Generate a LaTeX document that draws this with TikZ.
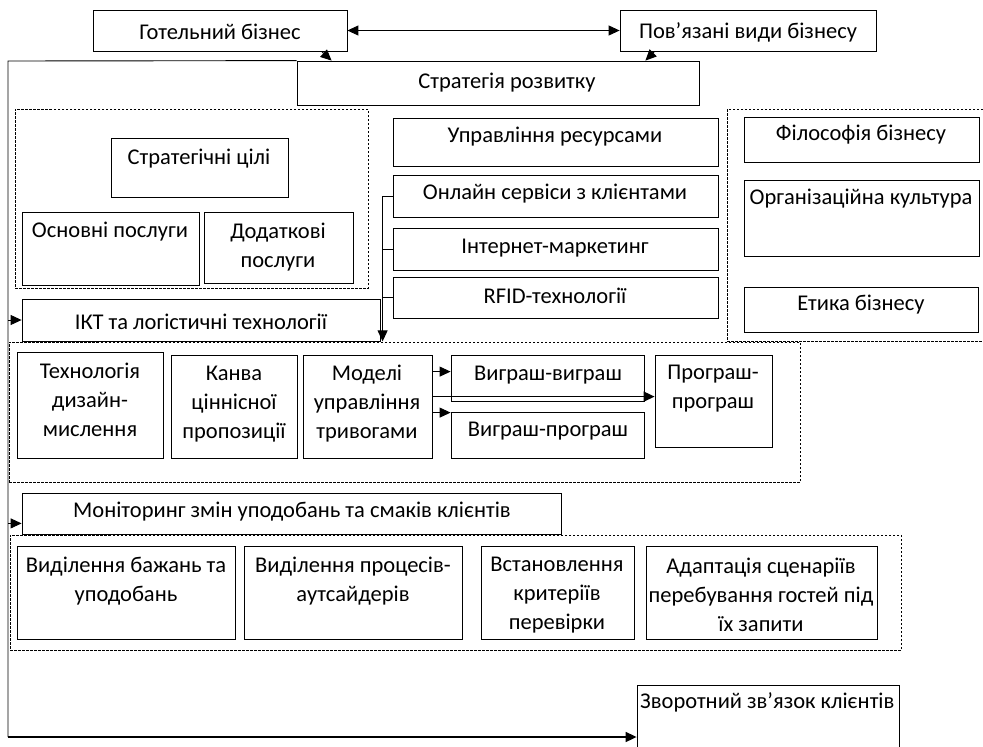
\documentclass[tikz,border=0pt]{standalone}
\usepackage{fontspec}
\setmainfont{Carlito}
\usetikzlibrary{arrows.meta,fit,calc}
\tikzset{
  bx/.style={draw, line width=0.8pt, inner sep=0pt},
  dbx/.style={draw, line width=0.6pt, dash pattern=on 2.5pt off 1.5pt, inner sep=0pt},
  dline/.style={line width=0.6pt, dash pattern=on 2.5pt off 1.5pt},
  tx/.style={inner sep=0pt, align=center, yshift=-2pt, font=\fontsize{22.5}{29}\selectfont},
  conn/.style={line width=0.9pt},
  arr/.style={line width=0.9pt, -{Triangle[length=11pt,width=10pt]}},
  darr/.style={line width=0.9pt, {Triangle[length=11pt,width=10pt]}-{Triangle[length=11pt,width=10pt]}},
}
\begin{document}
\begin{tikzpicture}[x=1pt,y=-1pt]
\useasboundingbox (0,0) rectangle (983,747);
\clip (0,0) rectangle (983,747);
% top
\node[bx, fit={(93,10) (347,51)}] (hotel) {};
\node[tx] (hotel-t) at (220,30) {Готельний бізнес};
\node[bx, fit={(620,10) (876,51)}] (rel) {};
\node[tx] (rel-t) at (748,30) {Пов’язані види бізнесу};
\node[bx, fit={(297,61) (699,105)}] (strat) {};
\node[tx] (strat-t) at (507,81) {Стратегія розвитку};
% left dashed group
\node[dbx, fit={(15,109) (368,288)}] (gl) {};
\node[bx, fit={(111,138) (288,197)}] (goals) {};
\node[tx] (goals-t) at (199,157) {Стратегічні цілі};
\node[bx, fit={(22,212) (199,285)}] (basic) {};
\node[tx] (basic-t) at (110,230) {Основні послуги};
\node[bx, fit={(204,212) (353,283)}] (extra) {};
\node[tx] (extra-t) at (278,245) {Додаткові\\послуги};
\node[bx, fit={(22,299) (380,341)}] (ict) {};
\node[tx] (ict-t) at (201,320) {ІКТ та логістичні технології};
% middle column
\node[bx, fit={(393,118) (718,166)}] (res) {};
\node[tx] (res-t) at (555,135) {Управління ресурсами};
\node[bx, fit={(393,175) (718,217)}] (online) {};
\node[tx] (online-t) at (555,192) {Онлайн сервіси з клієнтами};
\node[bx, fit={(393,228) (718,270)}] (inet) {};
\node[tx] (inet-t) at (555,246) {Інтернет-маркетинг};
\node[bx, fit={(393,277) (718,318)}] (rfid) {};
\node[tx] (rfid-t) at (555,294) {RFID-технології};
% right dashed group
\draw[dline] (983,109) -- (727,109) -- (727,341) -- (983,341);
\node[bx, fit={(744,117) (979,162)}] (phil) {};
\node[tx] (phil-t) at (861,133) {Філософія бізнесу};
\node[bx, fit={(744,180) (979,256)}] (org) {};
\node[tx] (org-t) at (861,197) {Організаційна культура};
\node[bx, fit={(744,287) (978,332)}] (eth) {};
\node[tx] (eth-t) at (861,303) {Етика бізнесу};
% middle dashed group
\node[dbx, fit={(9,342) (800,482)}] (gm) {};
\node[bx, fit={(17,352) (163,458)}] (tech) {};
\node[tx] (tech-t) at (90,398) {Технологія\\дизайн-\\мислення};
\node[bx, fit={(171,355) (297,458)}] (kanva) {};
\node[tx] (kanva-t) at (234,402) {Канва\\ціннісної\\пропозиції};
\node[bx, fit={(303,355) (432,458)}] (models) {};
\node[tx] (models-t) at (367,402) {Моделі\\управління\\тривогами};
\node[bx, fit={(451,355) (644,401)}] (ww) {};
\node[tx] (ww-t) at (548,373) {Виграш-виграш};
\node[bx, fit={(451,412) (644,458)}] (wl) {};
\node[tx] (wl-t) at (548,429) {Виграш-програш};
\node[bx, fit={(655,355) (772,447)}] (ll) {};
\node[tx] (ll-t) at (713,387) {Програш-\\програш};
% monitoring
\node[bx, fit={(22,493) (561,534)}] (mon) {};
\node[tx] (mon-t) at (292,510) {Моніторинг змін уподобань та смаків клієнтів};
% bottom dashed group
\node[dbx, fit={(10,535) (901,650)}] (gb) {};
\node[bx, fit={(17,546) (235,639)}] (d1) {};
\node[tx] (d1-t) at (126,579) {Виділення бажань та\\уподобань};
\node[bx, fit={(244,546) (462,639)}] (d2) {};
\node[tx] (d2-t) at (353,579) {Виділення процесів-\\аутсайдерів};
\node[bx, fit={(481,546) (634,639)}] (d3) {};
\node[tx] (d3-t) at (557,593) {Встановлення\\критеріїв\\перевірки};
\node[bx, fit={(646,546) (877,639)}] (d4) {};
\node[tx] (d4-t) at (761,593) {Адаптація сценаріїв\\перебування гостей під\\їх запити};
% feedback
\node[bx, fit={(637,685) (899,770)}] (fb) {};
\node[tx, anchor=west] (fb-t) at (640,700) {Зворотний зв’язок клієнтів};
% connectors
\draw[darr] (hotel) -- (rel);
\draw[arr] ($(hotel.south west)+(229,0)$) -- ($(strat.north west)+(35,0)$);
\draw[arr] ($(rel.south west)+(35,0)$) -- ($(strat.north east)+(-54,0)$);
\coordinate (lt) at (8,61);
\coordinate (lb) at (8,737);
\draw[conn] (strat.north west) -- (lt) -- (lb);
\draw[arr, line width=1.6pt] (lb) -- (lb -| fb.west);
\draw[arr] (lt |- ict.west) -- (ict.west);
\coordinate (ma) at ($(mon.south west)+(0,-11)$);
\draw[arr] (ma -| lt) -- (ma);
\coordinate (vt) at ($(online.west)+(-10,0)$);
\coordinate (vb) at (vt |- ict.south);
\draw[conn] (online.west) -- (vt);
\draw[arr] (vt) -- (vb);
\draw[conn] (inet.west) -- (inet.west -| vt);
\draw[conn] (rfid.west) -- (rfid.west -| vt);
\coordinate (m1) at ($(models.north east)+(0,17)$);
\draw[arr] (m1) -- (m1 -| ww.west);
\coordinate (m2) at ($(models.north east)+(0,58)$);
\draw[arr] (m2) -- (m2 -| wl.west);
\coordinate (m3) at ($(models.north east)+(0,42)$);
\draw[arr, line width=1.6pt] (m3) -- (m3 -| ll.west);
\end{tikzpicture}
\end{document}
